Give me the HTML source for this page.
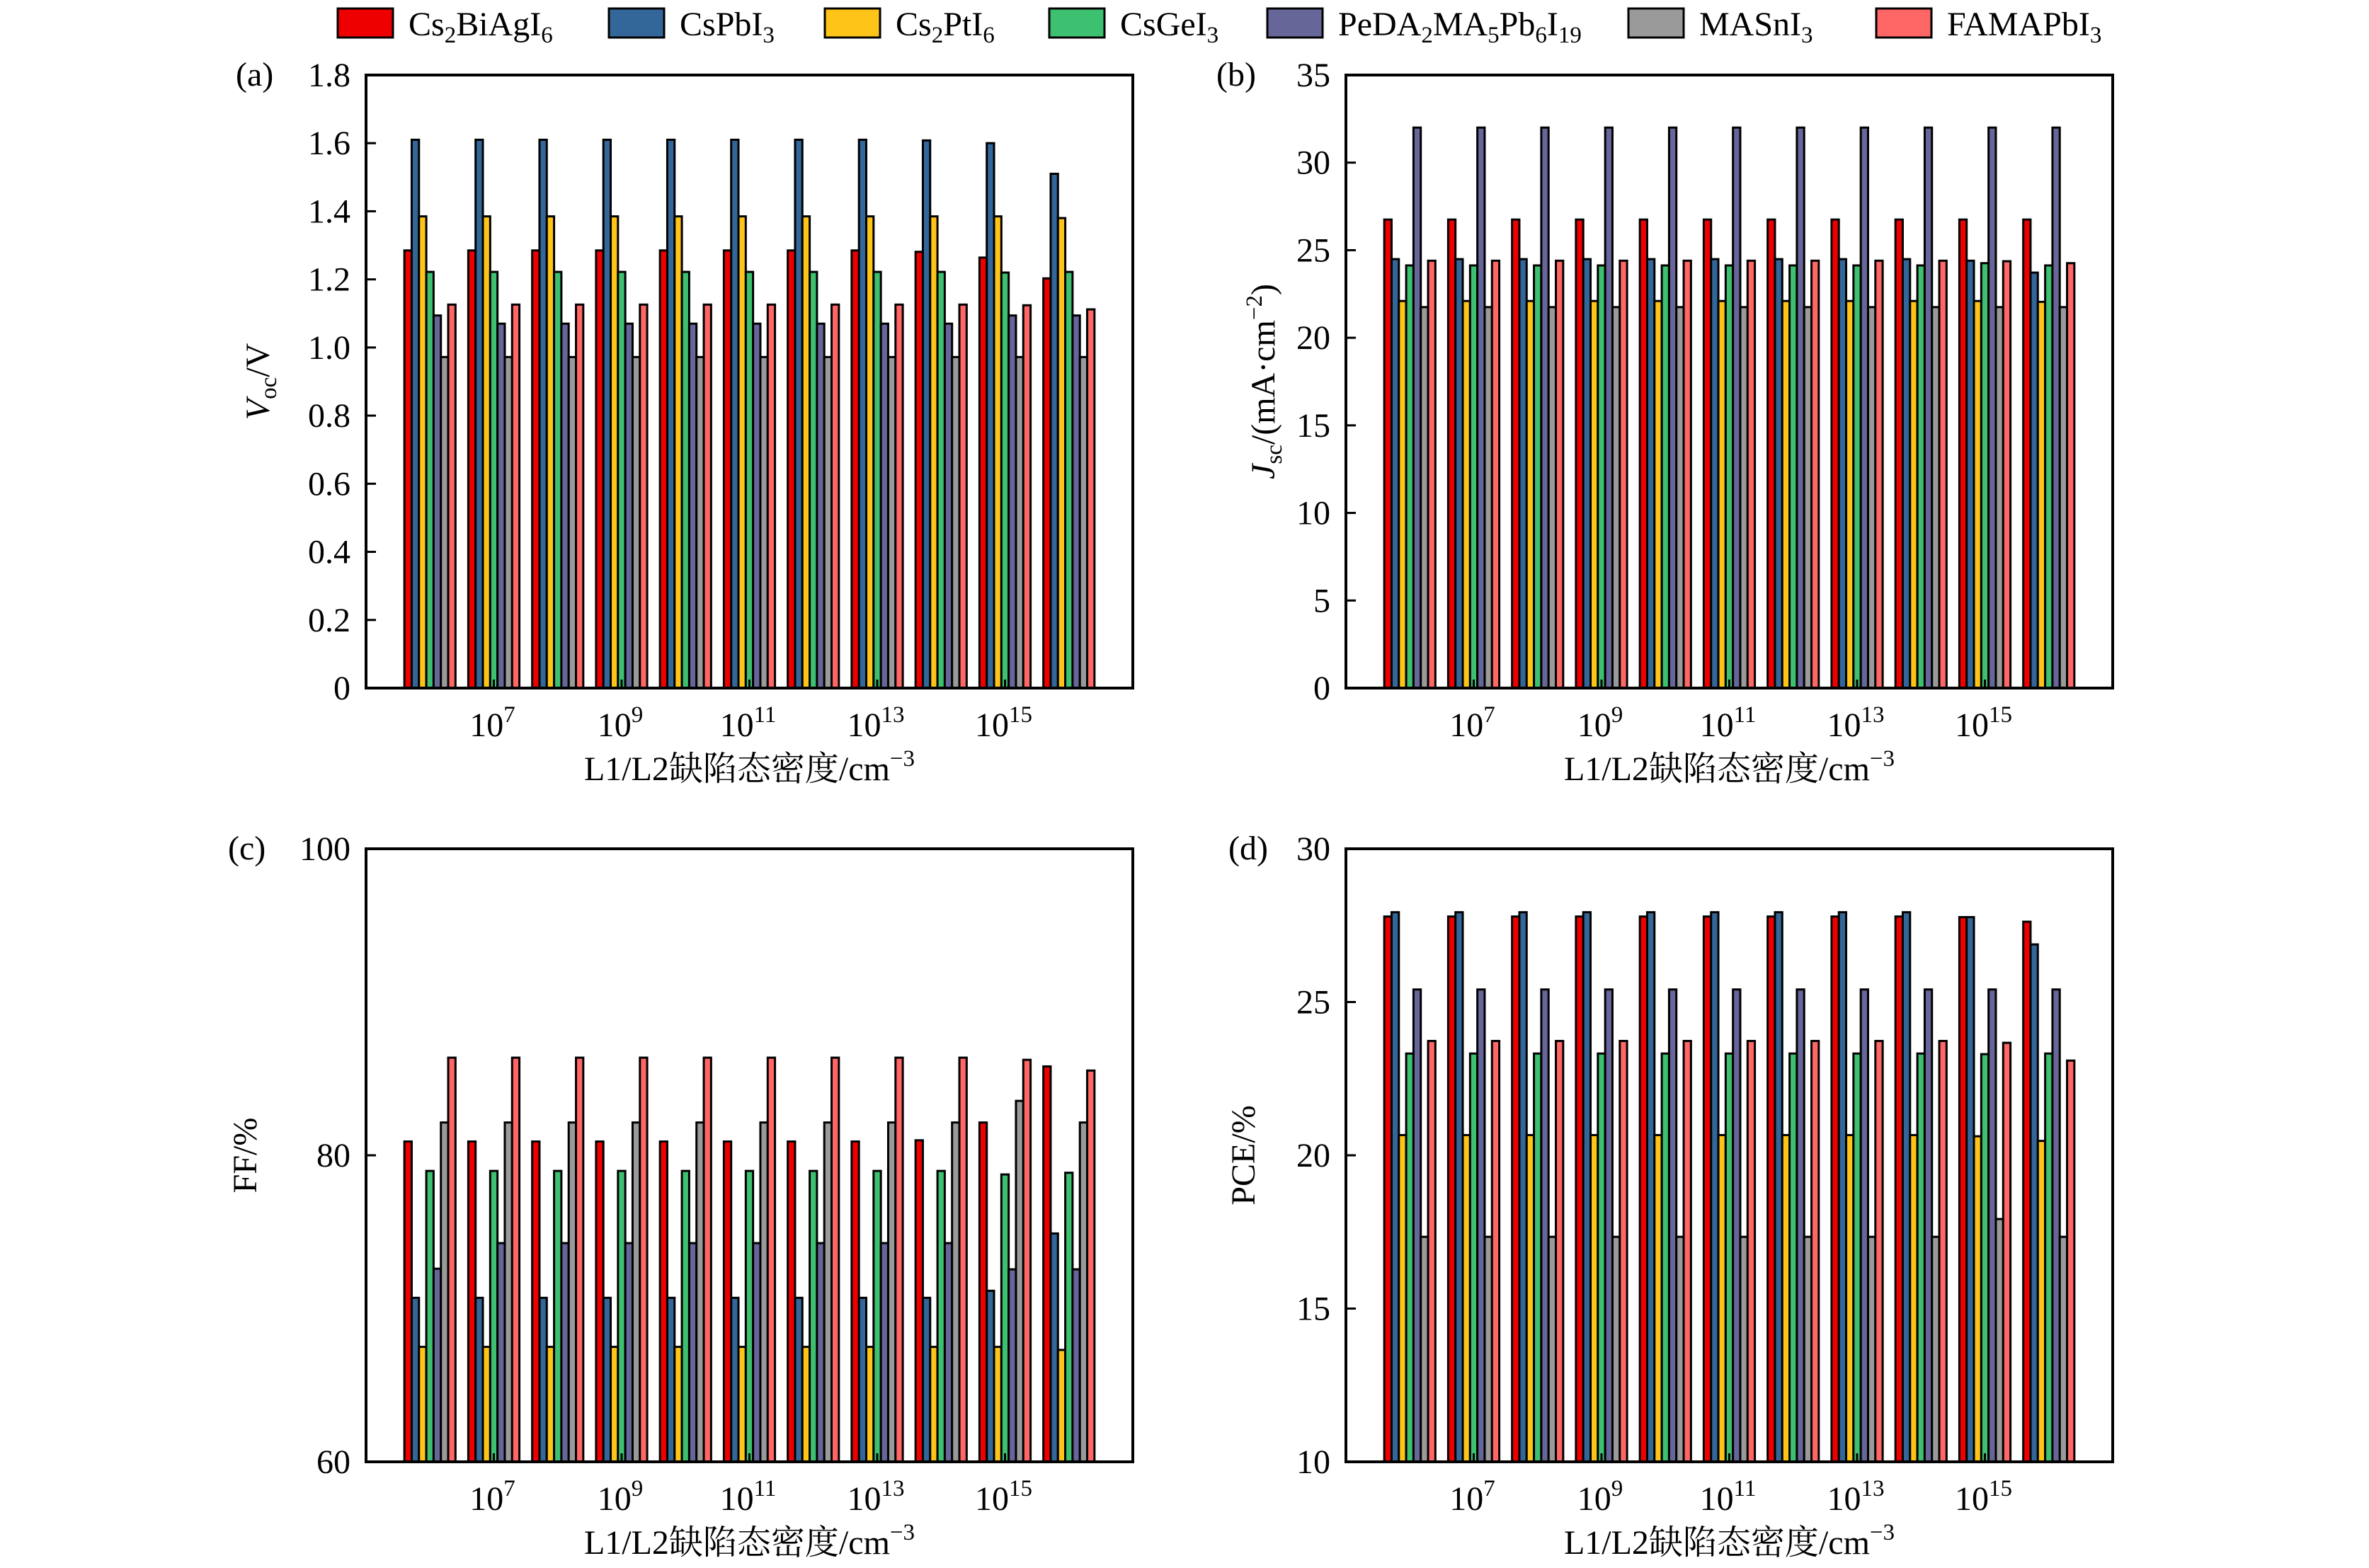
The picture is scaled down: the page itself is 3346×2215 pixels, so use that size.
<!DOCTYPE html>
<html><head><meta charset="utf-8">
<style>
html,body{margin:0;padding:0;background:#fff;}
svg{display:block;}
text{font-family:"Liberation Serif","Noto Serif CJK SC","Noto Sans CJK SC",serif;fill:#000;}
</style></head>
<body>
<svg id="fig" width="3346" height="2215" viewBox="0 0 3346 2215" xmlns="http://www.w3.org/2000/svg">
<g id="legend"></g>
</svg>
<script>
const NS="http://www.w3.org/2000/svg";
const svg=document.getElementById('fig');
const seriesNames=["Cs2BiAgI6","CsPbI3","Cs2PtI6","CsGeI3","PeDA2MA5Pb6I19","MASnI3","FAMAPbI3"];
const seriesColors=["#ee0000","#336699","#fec418","#3dc170","#666699","#9a9a9a","#ff6666"];
const categories=["1e6","1e7","1e8","1e9","1e10","1e11","1e12","1e13","1e14","1e15","1e16"];
const xTickLabels=["7","9","11","13","15"];
const xTickIndex=[1,3,5,7,9];

const vocRed=[1.285,1.285,1.285,1.285,1.285,1.285,1.285,1.285,1.281,1.264,1.203];
const vocBlue=[1.61,1.61,1.61,1.61,1.61,1.61,1.61,1.61,1.608,1.60,1.51];
const vocYellow=[1.385,1.385,1.385,1.385,1.385,1.385,1.385,1.385,1.385,1.385,1.38];
const vocGreen=[1.222,1.222,1.222,1.222,1.222,1.222,1.222,1.222,1.222,1.22,1.222];
const vocPurple=[1.094,1.07,1.07,1.07,1.07,1.07,1.07,1.07,1.07,1.094,1.094];
const vocGray=[0.972,0.972,0.972,0.972,0.972,0.972,0.972,0.972,0.972,0.972,0.972];
const vocPink=[1.126,1.126,1.126,1.126,1.126,1.126,1.126,1.126,1.126,1.124,1.112];

const jscRed=[26.75,26.75,26.75,26.75,26.75,26.75,26.75,26.75,26.75,26.75,26.75];
const jscBlue=[24.49,24.49,24.49,24.49,24.49,24.49,24.49,24.49,24.49,24.4,23.72];
const jscYellow=[22.1,22.1,22.1,22.1,22.1,22.1,22.1,22.1,22.1,22.1,22.05];
const jscGreen=[24.13,24.13,24.13,24.13,24.13,24.13,24.13,24.13,24.13,24.26,24.13];
const jscPurple=[32,32,32,32,32,32,32,32,32,32,32];
const jscGray=[21.75,21.75,21.75,21.75,21.75,21.75,21.75,21.75,21.75,21.75,21.75];
const jscPink=[24.4,24.4,24.4,24.4,24.4,24.4,24.4,24.4,24.4,24.37,24.26];

const ffRed=[80.9,80.9,80.9,80.9,80.9,80.9,80.9,80.9,80.98,82.14,85.8];
const ffBlue=[70.7,70.7,70.7,70.7,70.7,70.7,70.7,70.7,70.7,71.16,74.9];
const ffYellow=[67.5,67.5,67.5,67.5,67.5,67.5,67.5,67.5,67.5,67.5,67.3];
const ffGreen=[78.98,78.98,78.98,78.98,78.98,78.98,78.98,78.98,78.98,78.75,78.86];
const ffPurple=[72.6,74.27,74.27,74.27,74.27,74.27,74.27,74.27,74.27,72.56,72.56];
const ffGray=[82.14,82.14,82.14,82.14,82.14,82.14,82.14,82.14,82.14,83.55,82.14];
const ffPink=[86.37,86.37,86.37,86.37,86.37,86.37,86.37,86.37,86.37,86.23,85.53];

const pceRed=[27.79,27.79,27.79,27.79,27.79,27.79,27.79,27.79,27.79,27.77,27.62];
const pceBlue=[27.93,27.93,27.93,27.93,27.93,27.93,27.93,27.93,27.93,27.77,26.88];
const pceYellow=[20.66,20.66,20.66,20.66,20.66,20.66,20.66,20.66,20.66,20.62,20.47];
const pceGreen=[23.32,23.32,23.32,23.32,23.32,23.32,23.32,23.32,23.32,23.3,23.32];
const pcePurple=[25.41,25.41,25.41,25.41,25.41,25.41,25.41,25.41,25.41,25.41,25.41];
const pceGray=[17.34,17.34,17.34,17.34,17.34,17.34,17.34,17.34,17.34,17.92,17.34];
const pcePink=[23.73,23.73,23.73,23.73,23.73,23.73,23.73,23.73,23.73,23.67,23.09];

const vocTicks=["0","0.2","0.4","0.6","0.8","1.0","1.2","1.4","1.6","1.8"];
const jscTicks=["0","5","10","15","20","25","30","35"];
const ffTicks=["60","80","100"];
const pceTicks=["10","15","20","25","30"];

function el(tag,attrs,parent){const e=document.createElementNS(NS,tag);for(const k in attrs)e.setAttribute(k,attrs[k]);(parent||svg).appendChild(e);return e;}

function panel(opt){
  const g=el('g',{});
  
  
  const x0=opt.x,y0=opt.y,W=1083,H=866;
  const ymin=parseFloat(opt.ticks[0]),ymax=parseFloat(opt.ticks[opt.ticks.length-1]);
  const yScale=v=>y0+H-(v-ymin)/(ymax-ymin)*H;
  const step=W/(categories.length+1);
  const xScale=i=>x0+(i+1)*step;
  const bw=step*0.8/7;
  opt.series.forEach((arr,j)=>{
    arr.forEach((v,i)=>{
      const left=xScale(i)-3.5*bw+j*bw;
      const top=yScale(v);
      const r=el('rect',{x:left.toFixed(2),y:top.toFixed(2),width:bw.toFixed(2),height:(y0+H-top).toFixed(2),fill:seriesColors[j],stroke:'#000','stroke-width':3},g);
      
      
    });
  });
  const fr=el('rect',{x:x0,y:y0,width:W,height:H,fill:'none',stroke:'#000','stroke-width':4},g);
  
  
  opt.ticks.forEach(t=>{
    const y=yScale(parseFloat(t));
    const ln=el('line',{x1:x0,x2:x0+14,y1:y,y2:y,stroke:'#000','stroke-width':3},g);
    
    
    const tx=el('text',{x:x0-22,y:y+16,'font-size':48,'text-anchor':'end'},g);
    tx.textContent=t;
    
    
  });
  xTickIndex.forEach((idx,k)=>{
    const x=xScale(idx);
    const ln=el('line',{x1:x,x2:x,y1:y0+H,y2:y0+H-12,stroke:'#000','stroke-width':3},g);
    
    
    const tx=el('text',{x:x-2,y:y0+H+68,'font-size':48,'text-anchor':'middle'},g);
    tx.innerHTML='10<tspan dy="-20" font-size="33">'+xTickLabels[k]+'</tspan>';
    
    
  });
  const pl=el('text',{x:opt.letterX,y:y0+15,'font-size':48},g);
  pl.textContent=opt.letter;
  
  
  const xt=el('text',{x:x0+W/2,y:y0+H+130,'font-size':48,'text-anchor':'middle'},g);
  xt.innerHTML='L1/L2缺陷态密度/cm<tspan dy="-20" font-size="33">−3</tspan>';
  
  
  const yt=el('text',{x:0,y:0,'font-size':48,'text-anchor':'middle',transform:'translate('+opt.ylabX+','+(y0+H/2)+') rotate(-90)'},g);
  yt.innerHTML=opt.ylab;
  
  
}

panel({name:'panel-a-voc',x:517,y:106,ticks:vocTicks,letter:'(a)',letterX:333,ylabX:380,
  ylab:'<tspan font-style="italic">V</tspan><tspan dy="10" font-size="33">oc</tspan><tspan dy="-10">/V</tspan>',
  series:[vocRed,vocBlue,vocYellow,vocGreen,vocPurple,vocGray,vocPink]});
panel({name:'panel-b-jsc',x:1901,y:106,ticks:jscTicks,letter:'(b)',letterX:1718,ylabX:1800,
  ylab:'<tspan font-style="italic">J</tspan><tspan dy="10" font-size="33">sc</tspan><tspan dy="-10">/(mA·cm</tspan><tspan dy="-18" font-size="33">−2</tspan><tspan dy="18">)</tspan>',
  series:[jscRed,jscBlue,jscYellow,jscGreen,jscPurple,jscGray,jscPink]});
panel({name:'panel-c-ff',x:517,y:1199,ticks:ffTicks,letter:'(c)',letterX:322,ylabX:362,
  ylab:'FF/%',
  series:[ffRed,ffBlue,ffYellow,ffGreen,ffPurple,ffGray,ffPink]});
panel({name:'panel-d-pce',x:1901,y:1199,ticks:pceTicks,letter:'(d)',letterX:1735,ylabX:1772,
  ylab:'PCE/%',
  series:[pceRed,pceBlue,pceYellow,pceGreen,pcePurple,pceGray,pcePink]});

const legend=document.getElementById('legend');
const legendLabels=[
 'Cs<tspan dy="10" font-size="33">2</tspan><tspan dy="-10">BiAgI</tspan><tspan dy="10" font-size="33">6</tspan>',
 'CsPbI<tspan dy="10" font-size="33">3</tspan>',
 'Cs<tspan dy="10" font-size="33">2</tspan><tspan dy="-10">PtI</tspan><tspan dy="10" font-size="33">6</tspan>',
 'CsGeI<tspan dy="10" font-size="33">3</tspan>',
 'PeDA<tspan dy="10" font-size="33">2</tspan><tspan dy="-10">MA</tspan><tspan dy="10" font-size="33">5</tspan><tspan dy="-10">Pb</tspan><tspan dy="10" font-size="33">6</tspan><tspan dy="-10">I</tspan><tspan dy="10" font-size="33">19</tspan>',
 'MASnI<tspan dy="10" font-size="33">3</tspan>',
 'FAMAPbI<tspan dy="10" font-size="33">3</tspan>'];
const legendX=[477,860,1165,1482,1790,2300,2650];
legendLabels.forEach((lab,j)=>{
  const sw=el('rect',{x:legendX[j],y:12,width:78,height:41,fill:seriesColors[j],stroke:'#000','stroke-width':3},legend);
  
  
  const tx=el('text',{x:legendX[j]+100,y:50,'font-size':48},legend);
  tx.innerHTML=lab;
  
  
});
</script>
</body></html>
